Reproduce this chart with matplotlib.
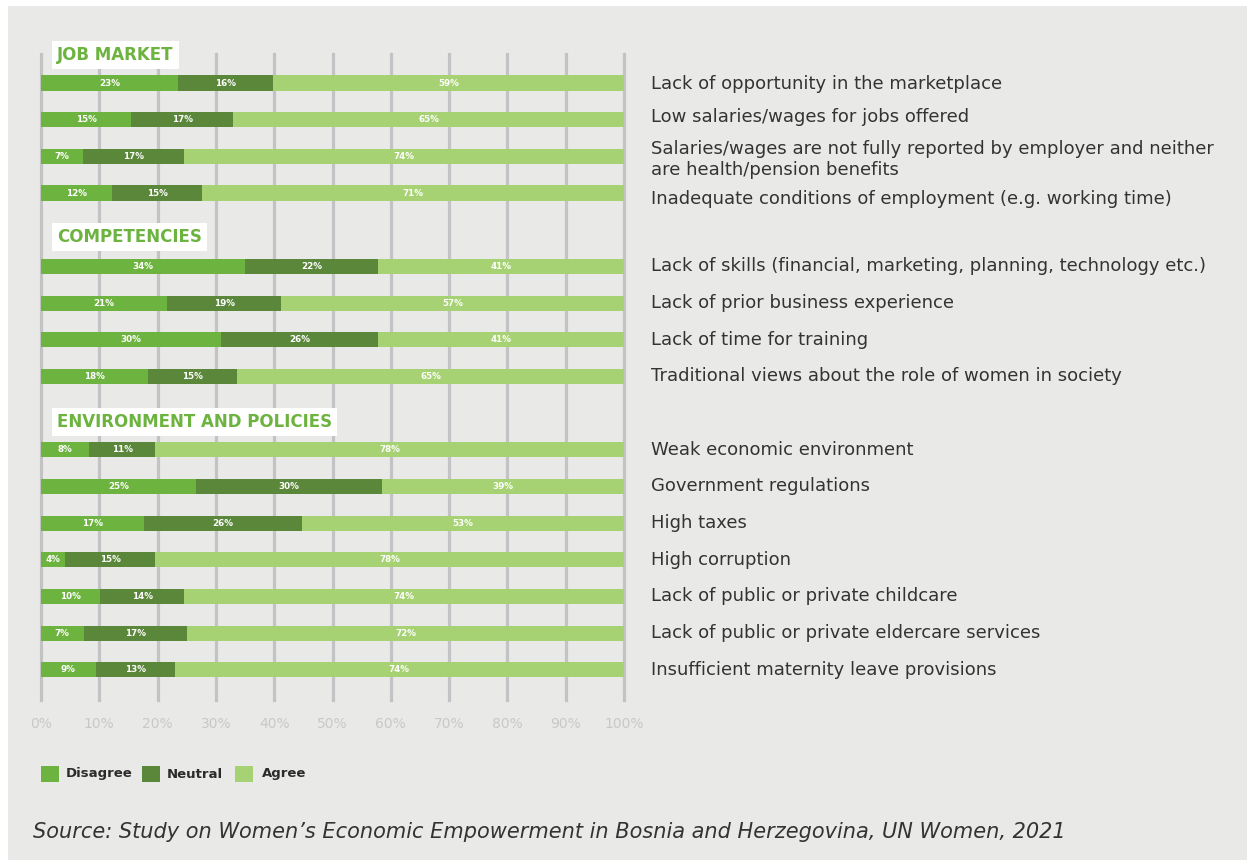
import matplotlib
matplotlib.use("Agg")
import matplotlib.pyplot as plt
from matplotlib.patches import Rectangle

# ---- data -------------------------------------------------------------
groups = ["JOB MARKET", "COMPETENCIES", "ENVIRONMENT AND POLICIES"]

job_market = [
    "Lack of opportunity in the marketplace",
    "Low salaries/wages for jobs offered",
    "Salaries/wages are not fully reported by employer and neither\nare health/pension benefits",
    "Inadequate conditions of employment (e.g. working time)",
]
competencies = [
    "Lack of skills (financial, marketing, planning, technology etc.)",
    "Lack of prior business experience",
    "Lack of time for training",
    "Traditional views about the role of women in society",
]
environment = [
    "Weak economic environment",
    "Government regulations",
    "High taxes",
    "High corruption",
    "Lack of public or private childcare",
    "Lack of public or private eldercare services",
    "Insufficient maternity leave provisions",
]

disagree = [23, 15, 7, 12, 34, 21, 30, 18, 8, 25, 17, 4, 10, 7, 9]
neutral = [16, 17, 17, 15, 22, 19, 26, 15, 11, 30, 26, 15, 14, 17, 13]
agree = [59, 65, 74, 71, 41, 57, 41, 65, 78, 39, 53, 78, 74, 72, 74]

series_names = ["Disagree", "Neutral", "Agree"]
tick_labels = ["0%", "10%", "20%", "30%", "40%", "50%", "60%", "70%", "80%", "90%", "100%"]
source = "Source: Study on Women\u2019s Economic Empowerment in Bosnia and Herzegovina, UN Women, 2021"

# ---- style -------------------------------------------------------------
C_DIS = "#6db33f"
C_NEU = "#5a873a"
C_AGR = "#a6d273"
BG = "#e9eae7"
GRID = "#c3c3c5"
FONT = "DejaVu Sans"

W, H = 1247, 860
fig = plt.figure(figsize=(W / 100, H / 100), dpi=100, facecolor="white")
fig.patches.append(Rectangle((8 / W, 0), 1 - 8 / W, 1 - 6 / H, transform=fig.transFigure,
                             facecolor=BG, edgecolor="none", zorder=-10))

# axes: x 0..100 spans px 41..624, y spans px 54..700
ax_left, ax_right = 41 / W, 624 / W
ax_top, ax_bot = 1 - 54 / H, 1 - 700 / H
ax = fig.add_axes([ax_left, ax_bot, ax_right - ax_left, ax_top - ax_bot])
ax.set_facecolor("none")

row_gap = 36.67
y_top = (54 - 83) / row_gap
y_bot = (700 - 83) / row_gap
ax.set_ylim(y_bot, y_top)
ax.set_xlim(0, 100)

labels = job_market + competencies + environment
rows = [0, 1, 2, 3, 5, 6, 7, 8, 10, 11, 12, 13, 14, 15, 16]
header_rows = [-0.75, 4.2, 9.25]
# small vertical nudges (px) for the category texts of the first block
label_nudge = [1, -3, 3, 6] + [0] * 11

for x in range(0, 101, 10):
    ax.axvline(x, color=GRID, lw=2.3, zorder=0, clip_on=False)

bar_h = 0.41
for i, y in enumerate(rows):
    vals = [disagree[i], neutral[i], agree[i]]
    total = sum(vals)
    left = 0.0
    for v, c in zip(vals, [C_DIS, C_NEU, C_AGR]):
        w = v / total * 100
        ax.barh(y, w, left=left, height=bar_h, color=c, edgecolor="none", zorder=2)
        ax.text(left + w / 2, y, f"{v}%", ha="center", va="center", color="white",
                fontsize=6.3, fontweight="bold", family=FONT, zorder=3)
        left += w
    ax.text(104.6, y + label_nudge[i] / row_gap, labels[i], ha="left", va="center",
            fontsize=13, color="#333333", family=FONT, linespacing=1.18, clip_on=False)

for name, y in zip(groups, header_rows):
    ax.text(2.8, y, name, ha="left", va="center", fontsize=12, fontweight="bold",
            color=C_DIS, family=FONT, zorder=4, clip_on=False,
            bbox=dict(boxstyle="square,pad=0.3", facecolor="white", edgecolor="none"))

ax.set_xticks(range(0, 101, 10))
ax.set_xticklabels(tick_labels, family=FONT, fontsize=10, color="#c8c8c8")
ax.tick_params(axis="x", length=0, pad=12)
ax.set_yticks([])
for s in ax.spines.values():
    s.set_visible(False)

# legend
leg_y = 1 - 774 / H
sq_w, sq_h = 18 / W, 16 / H
for x_px, tx_px, name, c in [(41, 66, series_names[0], C_DIS),
                             (142, 167, series_names[1], C_NEU),
                             (235, 262, series_names[2], C_AGR)]:
    fig.patches.append(Rectangle((x_px / W, leg_y - sq_h / 2), sq_w, sq_h,
                                 transform=fig.transFigure, facecolor=c, edgecolor="none"))
    fig.text(tx_px / W, leg_y, name, ha="left", va="center", fontsize=9.5,
             fontweight="bold", color="#2b2b2b", family=FONT)

fig.text(33 / W, 1 - 832 / H, source, ha="left", va="center", fontsize=15,
         style="italic", color="#333333", family=FONT)

fig.savefig("out.png", dpi=100, facecolor=fig.get_facecolor())
